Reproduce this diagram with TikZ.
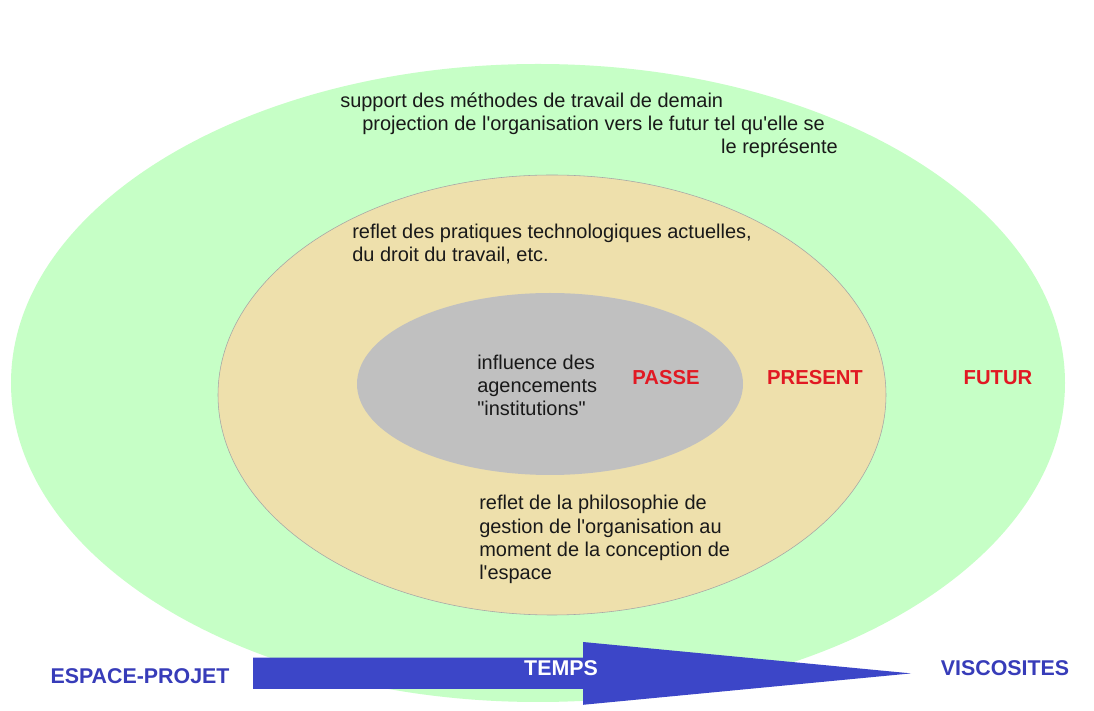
\documentclass[tikz,border=0pt]{standalone}
\usepackage{fontspec}
\setmainfont{Liberation Sans}
\usepackage{xcolor}
\usepackage{tikz}

\definecolor{futurgreen}{RGB}{198,255,198}
\definecolor{presenttan}{RGB}{238,224,172}
\definecolor{passegray}{RGB}{192,192,192}
\definecolor{tempsblue}{RGB}{60,70,200}
\definecolor{erared}{RGB}{225,25,35}
\definecolor{poleblue}{RGB}{55,60,185}

\tikzset{
  note/.style={align=left, inner sep=0pt, text=black!90,
               font=\fontsize{14.2}{16.4}\selectfont},
  era/.style={inner sep=0pt, text=erared,
              font=\fontsize{14.4}{16.4}\selectfont\bfseries},
  pole/.style={inner sep=0pt, text=poleblue,
               font=\fontsize{15.2}{16.4}\selectfont\bfseries}
}

\begin{document}
\begin{tikzpicture}
        \fill [white] (0,0) rectangle (27.35,17.775);                                     %page
        \fill [futurgreen] (13.45,8.2) ellipse [x radius=13.175, y radius=7.975];          %FUTUR
        \draw [gray!70, fill=presenttan] (13.8,7.9) ellipse [x radius=8.35, y radius=5.5]; %PRESENT
        \fill [passegray] (13.75,8.175) ellipse [x radius=4.825, y radius=2.275];          %PASSE

        \fill [tempsblue] (6.325,0.55) -- (14.575,0.55) -- (14.575,0.155) -- (22.775,0.94)
                       -- (14.575,1.725) -- (14.575,1.335) -- (6.325,1.335) -- cycle;       %TEMPS

        \node [note, anchor=west] (demain)  at (8.5,15.225)  {support des méthodes de travail de demain};
        \node [note, anchor=west] (project) at (9.05,14.65)  {projection de l\textquotesingle organisation vers le futur tel qu\textquotesingle elle se};
        \node [note, anchor=east] (repres)  at (20.95,14.075) {le représente};
        \node [note, anchor=west] (actuel)  at (8.8,11.675)  {reflet des pratiques technologiques actuelles,\\du droit du travail, etc.};
        \node [note, anchor=west] (instit)  at (11.925,8.15) {influence des\\agencements\\\textquotedbl institutions\textquotedbl};
        \node [note, anchor=west] (philo)   at (11.975,4.29) {reflet de la philosophie de\\gestion de l\textquotesingle organisation au\\moment de la conception de\\l\textquotesingle espace};

        \node [era] (passe)   at (16.65,8.325)  {PASSE};
        \node [era] (present) at (20.375,8.325) {PRESENT};
        \node [era] (futur)   at (24.95,8.325)  {FUTUR};

        \node [pole] (projet) at (3.5,0.875)    {ESPACE-PROJET};
        \node [pole] (viscos) at (25.125,1.075) {VISCOSITES};
        \node [pole, text=white] (temps) at (14.025,1.075) {TEMPS};
\end{tikzpicture}
\end{document}
